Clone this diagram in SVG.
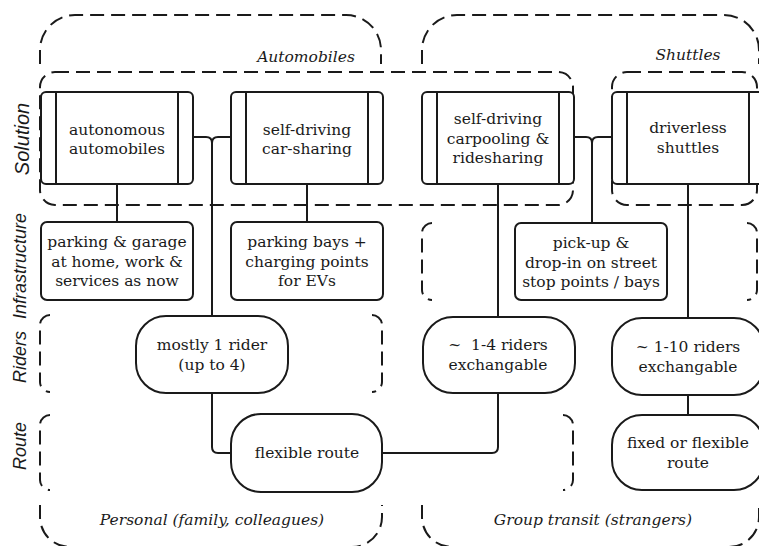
<svg xmlns="http://www.w3.org/2000/svg" width="759" height="546" viewBox="0 0 759 546">
<style>
  .bg{fill:#fff}
  .node{fill:#fff;stroke:#1a1a1a;stroke-width:2}
  .bar{fill:none;stroke:#1a1a1a;stroke-width:2}
  .grp{fill:none;stroke:#1a1a1a;stroke-width:2;stroke-dasharray:14 7}
  .conn{fill:none;stroke:#1a1a1a;stroke-width:2}
  .t{font-family:"DejaVu Serif","Liberation Serif",serif;font-size:15.5px;fill:#1a1a1a;text-anchor:middle}
  .gl{font-family:"DejaVu Serif","Liberation Serif",serif;font-size:15.5px;font-style:italic;fill:#1a1a1a;text-anchor:middle}
  .rl{font-family:"Liberation Sans",Arial,sans-serif;font-size:18px;font-style:italic;fill:#1a1a1a;text-anchor:middle}
</style>
<rect class="bg" x="0" y="0" width="759" height="546"/>

<g id="groups">
  <path class="grp" d="M40,64 V50 A35,35 0 0 1 75,15 H346 A35,35 0 0 1 381,50 V64"/>
  <path class="grp" d="M422,64 V50 A35,35 0 0 1 457,15 H724 A35,35 0 0 1 759,50 V64"/>
  <rect class="grp" x="40" y="72" width="533" height="133" rx="15"/>
  <rect class="grp" x="612" y="72" width="145" height="133" rx="15"/>
  <path class="grp" d="M432,223 A10,10 0 0 0 422,233 V290 A10,10 0 0 0 432,300"/>
  <path class="grp" d="M747,223 A10,10 0 0 1 757,233 V290 A10,10 0 0 1 747,300"/>
  <path class="grp" d="M50,315 A10,10 0 0 0 40,325 V382 A10,10 0 0 0 50,392"/>
  <path class="grp" d="M372,315 A10,10 0 0 1 382,325 V382 A10,10 0 0 1 372,392"/>
  <path class="grp" d="M50,415 A10,10 0 0 0 40,425 V480 A10,10 0 0 0 50,490"/>
  <path class="grp" d="M563,415 A10,10 0 0 1 573,425 V480 A10,10 0 0 1 563,490"/>
  <path class="grp" d="M40,505 V517 A30,30 0 0 0 70,547 H352 A30,30 0 0 0 382,517 V505"/>
  <path class="grp" d="M422,505 V517 A30,30 0 0 0 452,547 H729 A30,30 0 0 0 759,517 V505"/>
  <text class="gl" x="306" y="62">Automobiles</text>
  <text class="gl" x="688" y="60">Shuttles</text>
  <text class="gl" x="212" y="525">Personal (family, colleagues)</text>
  <text class="gl" x="593" y="525">Group transit (strangers)</text>
</g>

<g id="row-labels">
  <text class="rl" transform="translate(29,139) rotate(-90)" style="font-size:20px">Solution</text>
  <text class="rl" transform="translate(26,266) rotate(-90)">Infrastructure</text>
  <text class="rl" transform="translate(26,357) rotate(-90)">Riders</text>
  <text class="rl" transform="translate(26,446) rotate(-90)">Route</text>
</g>

<g id="connectors">
  <path class="conn" d="M193,137 H206 Q212,137 212,143 M231,137 H218 Q212,137 212,143 V316"/>
  <path class="conn" d="M574,137 H586 Q592,137 592,143 M612,137 H598 Q592,137 592,143 V223"/>
  <path class="conn" d="M117,184 V222"/>
  <path class="conn" d="M307,184 V222"/>
  <path class="conn" d="M498,184 V317"/>
  <path class="conn" d="M688,184 V318"/>
  <path class="conn" d="M212,393 V447 Q212,453 218,453 H231"/>
  <path class="conn" d="M498,393 V447 Q498,453 492,453 H382"/>
  <path class="conn" d="M688,395 V415"/>
</g>

<g id="n-autonomous">
  <rect class="node" x="41" y="92" width="152" height="92" rx="5"/>
  <path class="bar" d="M56,92 V184 M178,92 V184"/>
  <text class="t" x="117" y="135">autonomous</text>
  <text class="t" x="117" y="154">automobiles</text>
</g>
<g id="n-carsharing">
  <rect class="node" x="231" y="92" width="152" height="92" rx="5"/>
  <path class="bar" d="M246,92 V184 M368,92 V184"/>
  <text class="t" x="307" y="135">self-driving</text>
  <text class="t" x="307" y="154">car-sharing</text>
</g>
<g id="n-carpooling">
  <rect class="node" x="422" y="92" width="152" height="92" rx="5"/>
  <path class="bar" d="M437,92 V184 M559,92 V184"/>
  <text class="t" x="498" y="124">self-driving</text>
  <text class="t" x="498" y="144">carpooling &amp;</text>
  <text class="t" x="498" y="163">ridesharing</text>
</g>
<g id="n-shuttles">
  <rect class="node" x="612" y="92" width="152" height="92" rx="5"/>
  <path class="bar" d="M627,92 V184 M749,92 V184"/>
  <text class="t" x="688" y="133">driverless</text>
  <text class="t" x="688" y="153">shuttles</text>
</g>

<g id="n-parking-garage">
  <rect class="node" x="41" y="222" width="152" height="78" rx="6"/>
  <text class="t" x="117" y="247">parking &amp; garage</text>
  <text class="t" x="117" y="267">at home, work &amp;</text>
  <text class="t" x="117" y="286">services as now</text>
</g>
<g id="n-parking-bays">
  <rect class="node" x="231" y="222" width="152" height="78" rx="6"/>
  <text class="t" x="307" y="247">parking bays +</text>
  <text class="t" x="307" y="267">charging points</text>
  <text class="t" x="307" y="286">for EVs</text>
</g>
<g id="n-pickup">
  <rect class="node" x="515" y="223" width="152" height="77" rx="6"/>
  <text class="t" x="591" y="248">pick-up &amp;</text>
  <text class="t" x="591" y="268">drop-in on street</text>
  <text class="t" x="591" y="287">stop points / bays</text>
</g>

<g id="n-riders-1">
  <rect class="node" x="136" y="316" width="152" height="77" rx="30"/>
  <text class="t" x="212" y="350">mostly 1 rider</text>
  <text class="t" x="212" y="370">(up to 4)</text>
</g>
<g id="n-riders-4">
  <rect class="node" x="423" y="317" width="152" height="76" rx="30"/>
  <text class="t" x="498" y="350" xml:space="preserve">~  1-4 riders</text>
  <text class="t" x="498" y="370">exchangable</text>
</g>
<g id="n-riders-10">
  <rect class="node" x="612" y="318" width="152" height="77" rx="30"/>
  <text class="t" x="688" y="352">~ 1-10 riders</text>
  <text class="t" x="688" y="372">exchangable</text>
</g>

<g id="n-flexible-route">
  <rect class="node" x="231" y="414" width="151" height="78" rx="30"/>
  <text class="t" x="307" y="458">flexible route</text>
</g>
<g id="n-fixed-route">
  <rect class="node" x="612" y="415" width="152" height="75" rx="30"/>
  <text class="t" x="688" y="448">fixed or flexible</text>
  <text class="t" x="688" y="468">route</text>
</g>
</svg>
